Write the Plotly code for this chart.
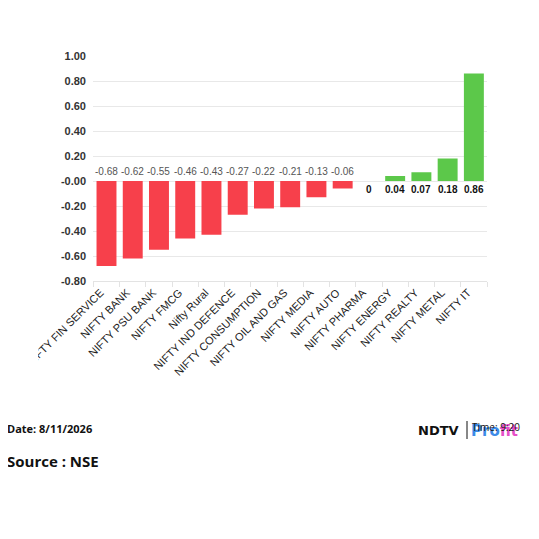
import plotly.graph_objects as go

# sector index changes (%)
sectors = ["NIFTY FIN SERVICE", "NIFTY BANK", "NIFTY PSU BANK", "NIFTY FMCG",
           "Nifty Rural", "NIFTY IND DEFENCE", "NIFTY CONSUMPTION",
           "NIFTY OIL AND GAS", "NIFTY MEDIA", "NIFTY AUTO", "NIFTY PHARMA",
           "NIFTY ENERGY", "NIFTY REALTY", "NIFTY METAL", "NIFTY IT"]
change = [-0.68, -0.62, -0.55, -0.46, -0.43, -0.27, -0.22, -0.21, -0.13,
          -0.06, 0, 0.04, 0.07, 0.18, 0.86]

y_ticks = [-0.8, -0.6, -0.4, -0.2, 0, 0.2, 0.4, 0.6, 0.8, 1.0]
y_ticktext = ["-0.80", "-0.60", "-0.40", "-0.20", "-0.00",
              "0.20", "0.40", "0.60", "0.80", "1.00"]

date_txt = "Date: 8/11/2026"
time_txt = "Time: 9:20"
source_txt = "Source : NSE"

RED = "#f7404b"
GREEN = "#5cc84a"

OFF = 8  # page body margin
W, H = 539 - OFF, 539 - OFF
L, R, T, B = 93 - OFF, 52, 56 - OFF, 258

def px(x, y):
    # page pixel position -> paper coords
    x, y = x - OFF, y - OFF
    return (x - L) / (W - L - R), (H - B - y) / (H - T - B)

colors = [RED if v < 0 else GREEN for v in change]

fig = go.Figure()
fig.add_trace(go.Bar(x=sectors, y=change, marker_color=colors,
                     marker_line_width=0, showlegend=False, hoverinfo="x+y"))

# labels for negatives sit above the zero line, positives below it
for s, v in zip(sectors, change):
    if v < 0:
        fig.add_annotation(x=s, y=0, text="%.2f" % v, showarrow=False,
                           yanchor="middle", yshift=10,
                           font=dict(family="Liberation Sans", size=10, color="#555555"))
    else:
        fig.add_annotation(x=s, y=0, text=("%.2f" % v) if v else "0", showarrow=False,
                           yanchor="middle", yshift=-8,
                           font=dict(family="Liberation Sans", size=10, color="#111111",
                                     weight="bold"))

fig.update_layout(
    width=W, height=H,
    margin=dict(l=L, r=R, t=T, b=B),
    paper_bgcolor="white", plot_bgcolor="white",
    bargap=0.24,
)
fig.update_xaxes(
    tickangle=-45, automargin=False,
    tickfont=dict(family="Liberation Sans", size=11, color="#222222"),
    ticklabelshift=-6,
    showline=True, linecolor="#e3e3e3", linewidth=1,
    ticks="outside", ticklen=5, tickcolor="#e3e3e3", tickson="boundaries",
    showgrid=False,
)
fig.update_yaxes(
    range=[-0.8, 1.0], tickvals=y_ticks, ticktext=y_ticktext,
    automargin=False,
    tickfont=dict(family="Liberation Sans", size=11, color="#333333", weight="bold"),
    showgrid=True, gridcolor="#e8e8e8", gridwidth=1,
    zeroline=False, ticks="", ticklabelstandoff=6,
)

# hide the start of the first rotated label, as in the original
x0, y0 = px(0, 285)
x1, y1 = px(38, 400)
fig.add_shape(type="rect", xref="paper", yref="paper", x0=x0, x1=x1, y0=y1, y1=y0,
              fillcolor="white", line_width=0, layer="above")

ax, ay = px(5, 428)
fig.add_annotation(xref="paper", yref="paper", x=ax, y=ay, text=date_txt,
                   showarrow=False, xanchor="left", yanchor="middle",
                   font=dict(family="Open Sans", size=11, color="#111111", weight="bold"))
ax, ay = px(5, 461)
fig.add_annotation(xref="paper", yref="paper", x=ax, y=ay, text=source_txt,
                   showarrow=False, xanchor="left", yanchor="middle",
                   font=dict(family="Open Sans", size=15, color="#111111", weight="bold"))

# NDTV Profit logo, with the time stamp overlapping it
ax, ay = px(461, 430)
fig.add_annotation(xref="paper", yref="paper", x=ax, y=ay, text="NDTV",
                   showarrow=False, xanchor="right", yanchor="middle",
                   font=dict(family="DejaVu Sans", size=13, color="#111111", weight="bold"))
lx0, ly0 = px(467, 421)
lx1, ly1 = px(467, 439)
fig.add_shape(type="line", xref="paper", yref="paper", x0=lx0, x1=lx1, y0=ly0, y1=ly1,
              line=dict(color="#111111", width=1))
ax, ay = px(469, 431)
fig.add_annotation(xref="paper", yref="paper", x=ax, y=ay,
                   text="<span style='color:#3d8be8'>Pro</span><span style='color:#e64fc8'>fit</span>",
                   showarrow=False, xanchor="left", yanchor="middle",
                   font=dict(family="DejaVu Sans", size=15, weight="bold"))
ax, ay = px(470, 427)
fig.add_annotation(xref="paper", yref="paper", x=ax, y=ay, text=time_txt,
                   showarrow=False, xanchor="left", yanchor="middle",
                   font=dict(family="Open Sans", size=10, color="#111111"))

fig.write_html("out.html")
